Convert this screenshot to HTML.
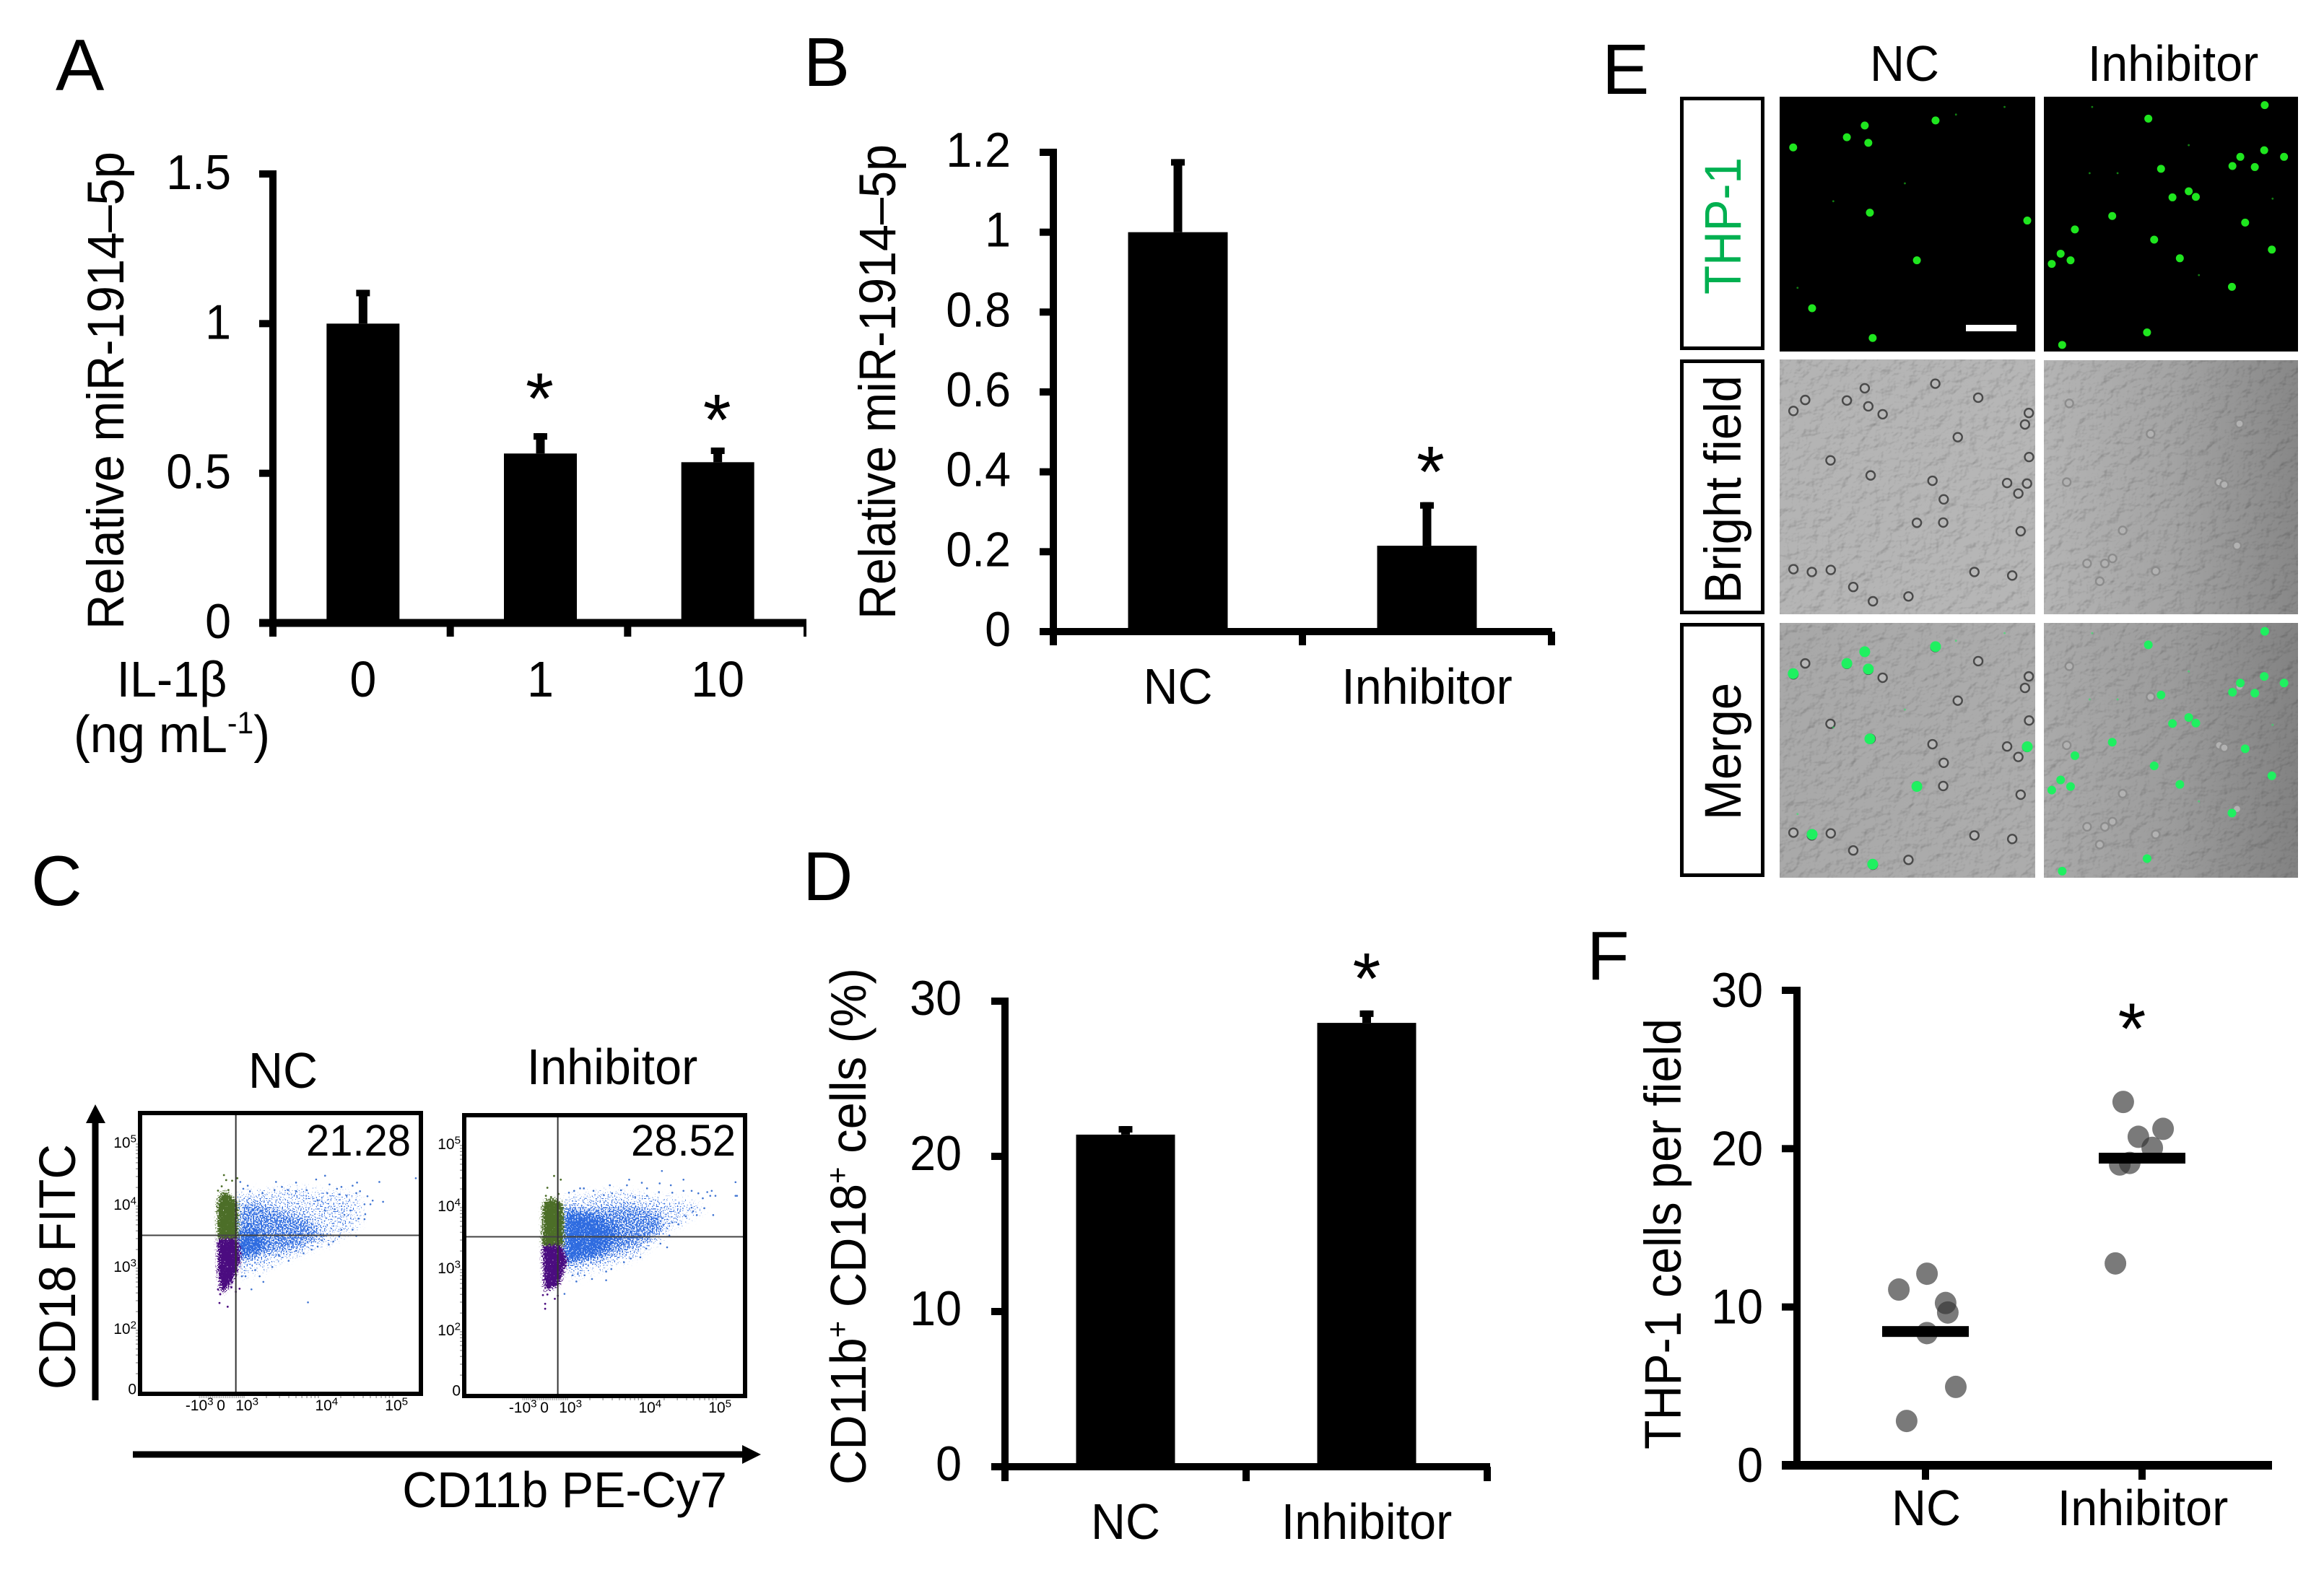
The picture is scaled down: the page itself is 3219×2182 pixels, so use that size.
<!DOCTYPE html>
<html lang="en">
<head>
<meta charset="utf-8">
<title>miR-1914-5p figure</title>
<style>
html,body{margin:0;padding:0;background:#fff;}
svg{display:block;font-family:"Liberation Sans",Arial,sans-serif;fill:#000;}
</style>
</head>
<body>
<svg id="figure" xmlns="http://www.w3.org/2000/svg" width="3219" height="2182" viewBox="0 0 3219 2182">
<defs>
  <filter id="cellTexture" x="0" y="0" width="1" height="1" color-interpolation-filters="sRGB">
    <feTurbulence type="fractalNoise" baseFrequency="0.06 0.07" numOctaves="3" seed="7" result="n"/>
    <feDiffuseLighting in="n" surfaceScale="1.3" diffuseConstant="1.1" lighting-color="#ffffff" result="light">
      <feDistantLight azimuth="225" elevation="65"/>
    </feDiffuseLighting>
    <feComposite in="SourceGraphic" in2="light" operator="arithmetic" k1="1" k2="0" k3="0" k4="0"/>
  </filter>
  <filter id="speckleBlue" x="-0.2" y="-0.2" width="1.4" height="1.4" color-interpolation-filters="sRGB">
    <feGaussianBlur in="SourceGraphic" stdDeviation="6" result="b"/>
    <feTurbulence type="fractalNoise" baseFrequency="0.55" numOctaves="1" seed="3"/>
    <feColorMatrix type="matrix" values="0 0 0 0 0 0 0 0 0 0 0 0 0 0 0 2.5 0 0 0 -0.75" result="n"/>
    <feComposite in="b" in2="n" operator="arithmetic" k1="0" k2="1" k3="1" k4="-1"/>
    <feComponentTransfer result="m"><feFuncA type="linear" slope="6" intercept="0"/></feComponentTransfer>
    <feFlood flood-color="#2f6ce0"/>
    <feComposite in2="m" operator="in"/>
  </filter>
  <filter id="speckleGreen" x="-0.3" y="-0.2" width="1.6" height="1.4" color-interpolation-filters="sRGB">
    <feGaussianBlur in="SourceGraphic" stdDeviation="3" result="b"/>
    <feTurbulence type="fractalNoise" baseFrequency="0.55" numOctaves="1" seed="11"/>
    <feColorMatrix type="matrix" values="0 0 0 0 0 0 0 0 0 0 0 0 0 0 0 2.5 0 0 0 -0.55" result="n"/>
    <feComposite in="b" in2="n" operator="arithmetic" k1="0" k2="1" k3="1" k4="-1"/>
    <feComponentTransfer result="m"><feFuncA type="linear" slope="6" intercept="0"/></feComponentTransfer>
    <feFlood flood-color="#4c6e28"/>
    <feComposite in2="m" operator="in"/>
  </filter>
  <filter id="specklePurple" x="-0.3" y="-0.2" width="1.6" height="1.4" color-interpolation-filters="sRGB">
    <feGaussianBlur in="SourceGraphic" stdDeviation="3" result="b"/>
    <feTurbulence type="fractalNoise" baseFrequency="0.55" numOctaves="1" seed="5"/>
    <feColorMatrix type="matrix" values="0 0 0 0 0 0 0 0 0 0 0 0 0 0 0 2.5 0 0 0 -0.55" result="n"/>
    <feComposite in="b" in2="n" operator="arithmetic" k1="0" k2="1" k3="1" k4="-1"/>
    <feComponentTransfer result="m"><feFuncA type="linear" slope="6" intercept="0"/></feComponentTransfer>
    <feFlood flood-color="#4b0c80"/>
    <feComposite in2="m" operator="in"/>
  </filter>
  <linearGradient id="bfNC" x1="0" x2="1" y1="0" y2="0.3"><stop offset="0" stop-color="#b4b4b4"/><stop offset="1" stop-color="#b6b6b6"/></linearGradient>
  <linearGradient id="mgNC" x1="0" x2="1" y1="0" y2="0.3"><stop offset="0" stop-color="#a8a8a8"/><stop offset="1" stop-color="#acacac"/></linearGradient>
  <linearGradient id="bfInh" x1="0" x2="1" y1="0" y2="0"><stop offset="0" stop-color="#b4b4b4"/><stop offset="0.5" stop-color="#a4a4a4"/><stop offset="1" stop-color="#878787"/></linearGradient>
  <linearGradient id="mgInh" x1="0" x2="1" y1="0" y2="0"><stop offset="0" stop-color="#aaaaaa"/><stop offset="0.5" stop-color="#9c9c9c"/><stop offset="1" stop-color="#828282"/></linearGradient>
</defs>

<g id="panel-a">
  <text x="77" y="125" font-size="101">A</text>
  <text transform="translate(171,872) rotate(-90)" font-size="71" textLength="662" lengthAdjust="spacingAndGlyphs">Relative miR-1914–5p</text>
  <text transform="translate(238,965) scale(0.95,1)" font-size="70" text-anchor="middle">IL-1β</text>
  <text transform="translate(238,1042) scale(0.95,1)" font-size="72" text-anchor="middle">(ng mL<tspan font-size="43" dy="-26">-1</tspan><tspan dy="26">)</tspan></text>
</g>

<g id="panel-b">
  <text x="1113" y="119" font-size="96">B</text>
  <text transform="translate(1240,858) rotate(-90)" font-size="71" textLength="658" lengthAdjust="spacingAndGlyphs">Relative miR-1914–5p</text>
</g>

<g id="panel-c">
  <text x="43" y="1254" font-size="98">C</text>
  <text transform="translate(392,1507) scale(0.95,1)" font-size="70" text-anchor="middle">NC</text>
  <text transform="translate(848,1502) scale(0.95,1)" font-size="70" text-anchor="middle">Inhibitor</text>
  <text transform="translate(104,1925) rotate(-90)" font-size="71" textLength="340" lengthAdjust="spacingAndGlyphs">CD18 FITC</text>
  <text transform="translate(782,2088) scale(0.95,1)" font-size="70" text-anchor="middle">CD11b PE-Cy7</text>
  <rect x="127.500" y="1550" width="9" height="390"/>
  <polygon points="119,1556 132,1530 146,1556"/>
  <rect x="184" y="2010.500" width="850" height="9"/>
  <polygon points="1028,2002 1054,2015 1028,2028"/>
</g>

<g id="panel-d">
  <text x="1112" y="1247" font-size="96">D</text>
  <text transform="translate(1199,2057) rotate(-90)" font-size="70" textLength="716" lengthAdjust="spacingAndGlyphs">CD11b<tspan font-size="42" dy="-25">+</tspan><tspan dy="25"> CD18</tspan><tspan font-size="42" dy="-25">+</tspan><tspan dy="25"> cells (%)</tspan></text>
</g>

<g id="panel-e">
  <text x="2219" y="130" font-size="98">E</text>
  <text transform="translate(2638,112) scale(0.95,1)" font-size="70" text-anchor="middle">NC</text>
  <text transform="translate(3010,112) scale(0.95,1)" font-size="70" text-anchor="middle">Inhibitor</text>
  <rect x="2329.500" y="136.500" width="112" height="346" fill="#fff" stroke="#000" stroke-width="5"/>
  <rect x="2329.500" y="500.500" width="112" height="348" fill="#fff" stroke="#000" stroke-width="5"/>
  <rect x="2329.500" y="865.500" width="112" height="347" fill="#fff" stroke="#000" stroke-width="5"/>
  <text transform="translate(2411,408) rotate(-90)" font-size="71" fill="#00b050" textLength="190" lengthAdjust="spacingAndGlyphs">THP-1</text>
  <text transform="translate(2411,836) rotate(-90)" font-size="71" textLength="316" lengthAdjust="spacingAndGlyphs">Bright field</text>
  <text transform="translate(2411,1136) rotate(-90)" font-size="71" textLength="190" lengthAdjust="spacingAndGlyphs">Merge</text>
</g>

<g id="panel-f">
  <text x="2198" y="1357" font-size="96">F</text>
  <text transform="translate(2328,2008) rotate(-90)" font-size="71" textLength="597" lengthAdjust="spacingAndGlyphs">THP-1 cells per field</text>
</g>
</svg>

<script>
// ---------- Panel A ----------
const aCategories = ['0', '1', '10'];
const aValues = [1.0, 0.566, 0.537];
const aErrors = [0.113, 0.068, 0.049];
const aStars = [null, 0.783, 0.711];
const aTicks = [0, 0.5, 1, 1.5];
const aTickLabels = ['0', '0.5', '1', '1.5'];
// ---------- Panel B ----------
const bCategories = ['NC', 'Inhibitor'];
const bValues = [1.0, 0.215];
const bErrors = [0.183, 0.109];
const bStars = [null, 0.425];
const bTicks = [0, 0.2, 0.4, 0.6, 0.8, 1, 1.2];
const bTickLabels = ['0', '0.2', '0.4', '0.6', '0.8', '1', '1.2'];
// ---------- Panel D ----------
const dCategories = ['NC', 'Inhibitor'];
const dValues = [21.4, 28.6];
const dErrors = [0.55, 0.8];
const dStars = [null, 32.1];
const dTicks = [0, 10, 20, 30];
const dTickLabels = ['0', '10', '20', '30'];
// ---------- Panel F ----------
const fCategories = ['NC', 'Inhibitor'];
const fMeans = [8.45, 19.4];
const fStars = [null, 28.2];
const fTicks = [0, 10, 20, 30];
const fTickLabels = ['0', '10', '20', '30'];
const fDotsNC = [[0.007, 12.1], [-0.123, 11.1], [0.093, 10.25], [0.103, 9.65], [0.007, 8.35], [0.14, 4.95], [-0.087, 2.8]];
const fDotsInhibitor = [[0.913, 22.95], [1.097, 21.25], [0.983, 20.75], [1.047, 20.05], [0.943, 19.1], [0.897, 19.0], [0.877, 12.75]];
// ---------- Panel C: flow cytometry (log10 decades) ----------
const flowPercentNC = '21.28';
const flowPercentInhibitor = '28.52';
const flowYTickValues = [1.03, 2, 3, 4, 5];
const flowYTickBases = ['0', '10', '10', '10', '10'];
const flowYTickExps = ['', '2', '3', '4', '5'];
const flowXTickValues = [2.40, 2.69, 3.04, 4.11, 5.05];
const flowXTickBases = ['-10', '0', '10', '10', '10'];
const flowXTickExps = ['3', '', '3', '4', '5'];
const flowGateNC = [2.89, 3.53];
const flowGateInhibitor = [2.87, 3.53];
const greenRegionNC = [[2.65, 4.05], [2.70, 4.22], [2.76, 4.22], [2.91, 4.05], [2.91, 3.47], [2.65, 3.47]];
const purpleRegionNC = [[2.65, 3.47], [2.91, 3.47], [2.95, 3.16], [2.89, 2.92], [2.80, 2.72], [2.70, 2.60], [2.66, 2.90]];
const blueOuterNC = [[2.91, 4.21], [3.73, 4.28], [4.54, 4.17], [4.57, 3.74], [4.25, 3.47], [3.73, 3.24], [3.28, 3.0], [2.99, 2.85], [2.91, 3.04]];
const blueDenseNC = [[2.91, 4.05], [3.15, 4.05], [3.47, 3.93], [3.83, 3.82], [4.06, 3.55], [3.73, 3.31], [3.28, 3.24], [2.99, 3.12], [2.91, 3.28]];
const blueCoreNC = [[2.91, 3.62], [3.18, 3.59], [3.28, 3.35], [2.99, 3.16], [2.91, 3.24]];
const greenRegionInh = [[2.67, 4.02], [2.73, 4.13], [2.84, 4.13], [2.94, 4.04], [2.94, 3.38], [2.67, 3.38]];
const purpleRegionInh = [[2.67, 3.38], [2.92, 3.38], [2.99, 3.14], [2.91, 2.87], [2.88, 2.76], [2.70, 2.66], [2.68, 3.03]];
const blueOuterInh = [[2.94, 4.15], [3.56, 4.27], [4.56, 4.11], [4.85, 3.99], [4.59, 3.80], [4.27, 3.53], [3.94, 3.22], [3.49, 3.03], [3.10, 2.87], [2.97, 2.99]];
const blueDenseInh = [[2.94, 4.04], [3.30, 3.96], [3.75, 4.04], [4.27, 3.92], [4.30, 3.61], [3.94, 3.38], [3.49, 3.18], [3.04, 3.10], [2.94, 3.03]];
const blueCoreInh = [[2.94, 3.92], [3.36, 3.88], [3.69, 3.61], [3.43, 3.26], [3.04, 3.14], [2.94, 3.10]];
const bluePointsNC = [[2.95,4.39],[3.05,4.33],[3.43,4.39],[3.51,4.31],[3.70,4.38],[3.97,4.43],[4.09,4.49],[4.15,4.35],[4.25,4.28],[4.31,4.31],[4.46,4.33],[4.52,4.38],[4.56,4.24],[4.51,4.21],[4.82,4.39],[5.31,4.45],[4.87,4.07],[4.73,4.09],[4.66,4.16],[4.70,4.03],[4.62,4.03],[4.63,3.87],[4.54,3.80],[4.62,3.79],[4.46,3.62],[4.31,3.62],[4.28,3.51],[4.51,3.52],[4.20,3.43],[4.14,3.38],[4.05,3.45],[3.99,3.35],[3.91,3.30],[3.80,3.24],[3.70,3.28],[3.60,3.12],[3.47,3.21],[3.38,3.02],[3.26,2.78],[3.21,2.87],[3.10,2.66],[3.86,2.45],[3.02,2.87],[3.15,2.97],[2.97,2.87],[3.84,4.26],[3.70,4.24],[3.59,4.26],[3.41,4.26],[3.25,4.21],[3.08,4.24],[2.99,4.28],[3.99,4.09],[4.12,4.21],[4.28,4.19],[4.38,4.17],[4.43,3.93],[4.35,3.86],[4.22,3.95],[4.09,3.93]];
const bluePointsInh = [[4.27,4.59],[4.56,4.45],[5.26,4.41],[5.26,4.19],[5.28,4.19],[3.83,4.45],[3.57,4.36],[3.80,4.36],[4.00,4.40],[4.24,4.39],[4.39,4.36],[3.72,4.28],[4.07,4.31],[4.23,4.25],[4.41,4.24],[4.56,4.27],[4.67,4.27],[4.94,4.27],[4.88,4.25],[4.99,4.19],[4.92,4.19],[4.76,4.23],[4.82,4.15],[4.96,3.88],[4.84,3.99],[4.74,3.88],[4.67,4.00],[4.69,3.94],[4.59,3.86],[4.49,3.73],[4.41,3.76],[4.37,3.55],[4.25,3.42],[4.34,3.36],[4.06,3.34],[3.98,3.20],[3.85,3.18],[3.76,3.12],[3.59,3.01],[3.52,2.97],[3.52,2.83],[3.33,2.85],[3.12,2.81],[2.96,2.61],[3.07,2.91],[3.17,4.31],[3.22,4.31],[3.35,4.27],[3.09,4.27],[3.02,4.24],[3.49,4.20],[3.60,4.23],[3.91,4.17],[4.07,4.19],[3.23,2.91],[3.14,2.93]];
const greenPointsNC = [[2.73,4.50],[2.76,4.42],[2.84,4.41],[2.91,4.45],[2.70,4.32],[2.65,4.25],[2.79,4.26]];
const greenPointsInh = [[2.82,4.51],[2.91,4.45],[2.73,4.32],[2.88,4.22],[2.78,4.17],[2.71,4.19]];
const purplePointsNC = [[2.67,2.44],[2.78,2.38],[2.68,2.58],[2.94,2.67],[2.89,2.62],[2.83,2.69],[2.65,2.66]];
const purplePointsInh = [[2.70,2.37],[2.67,2.59],[2.73,2.60],[2.87,2.58],[2.83,2.53],[2.70,2.45]];
// ---------- Panel E: micrograph features (fraction of image) ----------
const thpCellsNC = [[.053,.199],[.263,.159],[.333,.113],[.347,.181],[.610,.093],[.353,.455],[.969,.486],[.537,.642],[.127,.830],[.364,.947]];
const thpCellsInhibitor = [[.869,.033],[.411,.086],[.867,.210],[.773,.236],[.945,.236],[.461,.283],[.830,.276],[.742,.272],[.570,.371],[.598,.393],[.506,.395],[.269,.468],[.792,.494],[.122,.521],[.434,.561],[.897,.600],[.066,.616],[.031,.656],[.105,.642],[.535,.634],[.740,.746],[.406,.925],[.072,.974]];
const faintCellsNC = [[.69,.07],[.88,.04],[.49,.34],[.21,.41],[.07,.75]];
const faintCellsInhibitor = [[.19,.04],[.57,.19],[.29,.30],[.18,.30],[.90,.40],[.61,.70]];
const roundCellsNC = [[.054,.202],[.10,.159],[.263,.161],[.333,.113],[.347,.184],[.403,.215],[.609,.095],[.777,.150],[.975,.21],[.96,.255],[.697,.305],[.199,.396],[.356,.455],[.598,.476],[.642,.549],[.976,.383],[.968,.487],[.934,.526],[.89,.485],[.537,.641],[.64,.64],[.943,.674],[.2,.826],[.126,.834],[.762,.834],[.91,.848],[.288,.893],[.365,.949],[.504,.93],[.054,.823]];
const roundCellsInhibitor = [[.69,.48],[.24,.80],[.27,.78],[.17,.80],[.22,.87],[.42,.29],[.77,.25],[.71,.49],[.76,.73],[.31,.67],[.10,.17],[.44,.83],[.09,.48]];

const SVGNS = 'http://www.w3.org/2000/svg';

function shape(parent, tag, name, attrs) {
  const el = document.createElementNS(SVGNS, tag);
  
  
  Object.keys(attrs).forEach(k => el.setAttribute(k, attrs[k]));
  parent.appendChild(el);
  return el;
}

function label(parent, name, str, x, y, size, anchor) {
  const el = document.createElementNS(SVGNS, 'text');
  
  
  el.setAttribute('transform', 'translate(' + x + ',' + y + ') scale(0.95,1)');
  el.setAttribute('font-size', size);
  el.setAttribute('text-anchor', anchor);
  el.textContent = str;
  parent.appendChild(el);
  return el;
}

function supLabel(parent, name, base, exp, x, y, size, anchor) {
  const el = document.createElementNS(SVGNS, 'text');
  
  
  el.setAttribute('x', x);
  el.setAttribute('y', y);
  el.setAttribute('font-size', size);
  el.setAttribute('text-anchor', anchor);
  el.setAttribute('fill', '#000');
  el.textContent = base;
  if (exp) {
    const s = document.createElementNS(SVGNS, 'tspan');
    s.setAttribute('font-size', size * 0.72);
    s.setAttribute('dy', -size * 0.36);
    s.textContent = exp;
    el.appendChild(s);
  }
  parent.appendChild(el);
  return el;
}

function drawAxes(g, prefix, ticks, tickLabels, yScale, ax) {
  shape(g, 'rect', prefix + '-y-axis', {x: ax.axisX - 5, y: yScale(ticks[ticks.length - 1]) - 5, width: 10, height: yScale(0) - yScale(ticks[ticks.length - 1]) + 10});
  shape(g, 'rect', prefix + '-x-axis', {x: ax.tickLeft, y: yScale(0) - ax.xThick / 2, width: ax.axisEnd - ax.tickLeft, height: ax.xThick});
  ticks.forEach((t, i) => {
    shape(g, 'rect', prefix + '-y-tick', {x: ax.tickLeft, y: yScale(t) - 5, width: ax.axisX - ax.tickLeft, height: 10});
    label(g, prefix + '-y-tick-label', tickLabels[i], ax.labelRight, yScale(t) + ax.labelDy, ax.tickFont, 'end');
  });
}

function drawStar(g, name, x, y) {
  const el = document.createElementNS(SVGNS, 'text');
  
  
  el.setAttribute('x', x);
  el.setAttribute('y', y + 48);
  el.setAttribute('font-size', 100);
  el.setAttribute('text-anchor', 'middle');
  el.textContent = '*';
  g.appendChild(el);
}

function drawBarPanel(gid, prefix, categories, values, errors, stars, ticks, tickLabels, ax) {
  const g = document.getElementById(gid);
  const yScale = v => ax.y0 - (v / ax.yMax) * (ax.y0 - ax.yTop);
  const step = (ax.lastTickX - ax.axisX) / categories.length;
  const xScale = i => ax.axisX + (i + 0.5) * step + ax.dx;
  drawAxes(g, prefix, ticks, tickLabels, yScale, ax);
  for (let i = 0; i <= categories.length; i++) {
    const w = (i === categories.length && ax.thinEnd) ? 4 : 10;
    shape(g, 'rect', prefix + '-x-tick', {x: ax.axisX + i * step - w / 2, y: ax.y0, width: w, height: ax.tickDown});
  }
  categories.forEach((c, i) => {
    const cx = xScale(i);
    shape(g, 'rect', prefix + '-bar-' + i, {x: cx - ax.barW / 2, y: yScale(values[i]), width: ax.barW, height: ax.y0 - yScale(values[i])});
    const top = yScale(values[i] + errors[i]);
    shape(g, 'rect', prefix + '-error-stem-' + i, {x: cx - 6, y: top, width: 12, height: yScale(values[i]) - top});
    shape(g, 'rect', prefix + '-error-cap-' + i, {x: cx - 9.5, y: top, width: 19, height: 9});
    label(g, prefix + '-category-label-' + i, c, cx, ax.catY, ax.catFont, 'middle');
    if (stars[i] !== null) drawStar(g, prefix + '-significance-star-' + i, cx + ax.starDx, yScale(stars[i]));
  });
}

drawBarPanel('panel-a', 'a', aCategories, aValues, aErrors, aStars, aTicks, aTickLabels,
  {axisX: 378, lastTickX: 1115, thinEnd: true, tickLeft: 359, axisEnd: 1117, xThick: 11, y0: 863, yTop: 241, yMax: 1.5, barW: 101, tickDown: 19, labelRight: 320, labelDy: 21, tickFont: 68, catY: 965, catFont: 70, starDx: -1, dx: 2});
drawBarPanel('panel-b', 'b', bCategories, bValues, bErrors, bStars, bTicks, bTickLabels,
  {axisX: 1459, lastTickX: 2149, thinEnd: false, tickLeft: 1440, axisEnd: 2150, xThick: 10, y0: 875, yTop: 211, yMax: 1.2, barW: 138, tickDown: 19, labelRight: 1400, labelDy: 20, tickFont: 68, catY: 975, catFont: 70, starDx: 5, dx: 0});
drawBarPanel('panel-d', 'd', dCategories, dValues, dErrors, dStars, dTicks, dTickLabels,
  {axisX: 1392, lastTickX: 2060, thinEnd: false, tickLeft: 1373, axisEnd: 2064, xThick: 10, y0: 2032, yTop: 1387, yMax: 30, barW: 137, tickDown: 20, labelRight: 1332, labelDy: 19, tickFont: 68, catY: 2132, catFont: 70, starDx: 0, dx: 0});

// Panel F: dot plot
(function () {
  const g = document.getElementById('panel-f');
  const yScale = v => 2030 - (v / 30) * (2030 - 1372);
  const xScale = v => 2667 + v * 300;
  drawAxes(g, 'f', fTicks, fTickLabels, yScale, {axisX: 2489, tickLeft: 2468, axisEnd: 3147, xThick: 12, labelRight: 2442, labelDy: 23, tickFont: 68});
  fCategories.forEach((c, i) => {
    shape(g, 'rect', 'f-x-tick', {x: xScale(i) - 5, y: yScale(0), width: 10, height: 20});
    label(g, 'f-category-label-' + i, c, xScale(i) + 1, 2113, 70, 'middle');
    if (fStars[i] !== null) drawStar(g, 'f-significance-star-' + i, xScale(i) - 14, yScale(fStars[i]));
  });
  fDotsNC.concat(fDotsInhibitor).forEach(d => {
    shape(g, 'ellipse', 'f-data-point', {cx: xScale(d[0]), cy: yScale(d[1]), rx: 15, ry: 15.5, fill: 'rgba(50,50,50,0.65)'});
  });
  fMeans.forEach((m, i) => {
    shape(g, 'rect', 'f-mean-bar-' + i, {x: xScale(i) - 60, y: yScale(m) - 7.5, width: 120, height: 15});
  });
})();

// Panel C: flow plots
function drawFlow(prefix, frame, x1e3, y1e3, percent, gate, regions, points, labelDx, labelDy) {
  const g = document.getElementById('panel-c');
  const xS = d => x1e3 + (d - 3) * 103;
  const yS = d => y1e3 - (d - 3) * 86;
  const poly = (parent, name, pts, alpha) => shape(parent, 'polygon', name, {points: pts.map(p => xS(p[0]) + ',' + yS(p[1])).join(' '), 'fill-opacity': alpha});
  const minors = [];
  [1, 2, 3, 4].forEach(dec => [2, 3, 4, 5, 6, 7, 8, 9].forEach(m => minors.push(dec + Math.log10(m))));
  minors.concat([2, 3, 4, 5]).forEach(d => {
    if (yS(d) > frame.y && yS(d) < frame.y + frame.s)
      shape(g, 'rect', prefix + '-y-minor-tick', {x: frame.x - 6, y: yS(d) - 0.6, width: 6, height: 1.2, fill: '#8a8a8a'});
  });
  minors.filter(d => d >= 3).concat([3, 4, 5]).forEach(d => {
    if (xS(d) < frame.x + frame.s)
      shape(g, 'rect', prefix + '-x-minor-tick', {x: xS(d) - 0.6, y: frame.y + frame.s, width: 1.2, height: 6, fill: '#8a8a8a'});
  });
  for (let d = 2.40; d < 3; d += 0.025) {
    shape(g, 'rect', prefix + '-x-linear-tick', {x: xS(d) - 0.5, y: frame.y + frame.s, width: 1, height: 6, fill: '#9a9a9a'});
  }
  const blue = shape(g, 'g', prefix + '-blue-population', {filter: 'url(#speckleBlue)'});
  poly(blue, prefix + '-blue-cloud-sparse', regions.blueOuter, 0.3);
  poly(blue, prefix + '-blue-cloud-dense', regions.blueDense, 0.5);
  poly(blue, prefix + '-blue-cloud-core', regions.blueCore, 1);
  const green = shape(g, 'g', prefix + '-green-population', {filter: 'url(#speckleGreen)'});
  poly(green, prefix + '-green-region', regions.green, 1);
  const purple = shape(g, 'g', prefix + '-purple-population', {filter: 'url(#specklePurple)'});
  poly(purple, prefix + '-purple-region', regions.purple, 1);
  points.blue.forEach(p => shape(g, 'circle', prefix + '-blue-event', {cx: xS(p[0]), cy: yS(p[1]), r: 1.3, fill: '#3f74d2'}));
  points.green.forEach(p => shape(g, 'circle', prefix + '-green-event', {cx: xS(p[0]), cy: yS(p[1]), r: 1.4, fill: '#4c6e28'}));
  points.purple.forEach(p => shape(g, 'circle', prefix + '-purple-event', {cx: xS(p[0]), cy: yS(p[1]), r: 1.4, fill: '#4b0c80'}));
  shape(g, 'rect', prefix + '-frame', {x: frame.x, y: frame.y, width: frame.s, height: frame.s, fill: 'none', stroke: '#000', 'stroke-width': 6});
  shape(g, 'rect', prefix + '-gate-horizontal', {x: frame.x + 3, y: yS(gate[1]) - 1, width: frame.s - 6, height: 2, fill: '#444'});
  shape(g, 'rect', prefix + '-gate-vertical', {x: xS(gate[0]) - 1, y: frame.y + 3, width: 2, height: frame.s - 6, fill: '#333'});
  flowYTickValues.forEach((d, i) => supLabel(g, prefix + '-y-tick-label', flowYTickBases[i], flowYTickExps[i], frame.x - 5, yS(d) + 5, 21, 'end'));
  flowXTickValues.forEach((d, i) => supLabel(g, prefix + '-x-tick-label', flowXTickBases[i], flowXTickExps[i], xS(d), frame.y + frame.s + 23, 21, 'middle'));
  label(g, prefix + '-percent-label', percent, frame.x + frame.s + labelDx, frame.y + labelDy, 61, 'end');
}

drawFlow('flow-nc', {x: 194, y: 1542, s: 389}, 338, 1757, flowPercentNC, flowGateNC,
  {blueOuter: blueOuterNC, blueDense: blueDenseNC, blueCore: blueCoreNC, green: greenRegionNC, purple: purpleRegionNC},
  {blue: bluePointsNC, green: greenPointsNC, purple: purplePointsNC}, -14, 59);
drawFlow('flow-inhibitor', {x: 643, y: 1545, s: 389}, 786, 1759, flowPercentInhibitor, flowGateInhibitor,
  {blueOuter: blueOuterInh, blueDense: blueDenseInh, blueCore: blueCoreInh, green: greenRegionInh, purple: purpleRegionInh},
  {blue: bluePointsInh, green: greenPointsInh, purple: purplePointsInh}, -13, 56);

// Panel E: micrographs
function drawPhoto(name, x, y, w, h, bg, cells, faint, rounds, roundStyle, greenFill, greenR) {
  const g = document.getElementById('panel-e');
  shape(g, 'rect', name + '-background', bg === '#000' ? {x: x, y: y, width: w, height: h, fill: '#000'} : {x: x, y: y, width: w, height: h, fill: bg, filter: 'url(#cellTexture)'});
  rounds.forEach(p => shape(g, 'circle', name + '-round-cell', {cx: x + p[0] * w, cy: y + p[1] * h, r: roundStyle.r, fill: roundStyle.fill, stroke: roundStyle.stroke, 'stroke-width': 2.4}));
  faint.forEach(p => shape(g, 'circle', name + '-faint-cell', {cx: x + p[0] * w, cy: y + p[1] * h, r: 1.4, fill: greenFill, opacity: 0.55}));
  cells.forEach(p => shape(g, 'circle', name + '-green-cell', {cx: x + p[0] * w, cy: y + p[1] * h, r: greenR, fill: greenFill}));
}
const darkRing = {r: 6, fill: '#b8b8b8', stroke: '#4a4a4a'};
const paleRing = {r: 5.5, fill: '#b2b2b2', stroke: '#8c8c8c'};
drawPhoto('thp1-nc', 2465, 134, 354, 353, '#000', thpCellsNC, faintCellsNC, [], darkRing, '#1fe61f', 5.5);
drawPhoto('thp1-inhibitor', 2831, 134, 352, 353, '#000', thpCellsInhibitor, faintCellsInhibitor, [], darkRing, '#1fe61f', 5.5);
drawPhoto('bright-nc', 2465, 498, 354, 353, 'url(#bfNC)', [], [], roundCellsNC, darkRing, '#1fe61f', 5.5);
drawPhoto('bright-inhibitor', 2831, 499, 352, 352, 'url(#bfInh)', [], [], roundCellsInhibitor, paleRing, '#1fe61f', 5.5);
drawPhoto('merge-nc', 2465, 863, 354, 353, 'url(#mgNC)', thpCellsNC, faintCellsNC, roundCellsNC, darkRing, '#1ff060', 7.5);
drawPhoto('merge-inhibitor', 2831, 863, 352, 353, 'url(#mgInh)', thpCellsInhibitor, faintCellsInhibitor, roundCellsInhibitor, paleRing, '#1ff060', 6);
const scaleBar = document.createElementNS(SVGNS, 'rect');


scaleBar.setAttribute('x', 2723);
scaleBar.setAttribute('y', 450);
scaleBar.setAttribute('width', 70);
scaleBar.setAttribute('height', 9);
scaleBar.setAttribute('fill', '#fff');
document.getElementById('panel-e').appendChild(scaleBar);
</script>
</body>
</html>
